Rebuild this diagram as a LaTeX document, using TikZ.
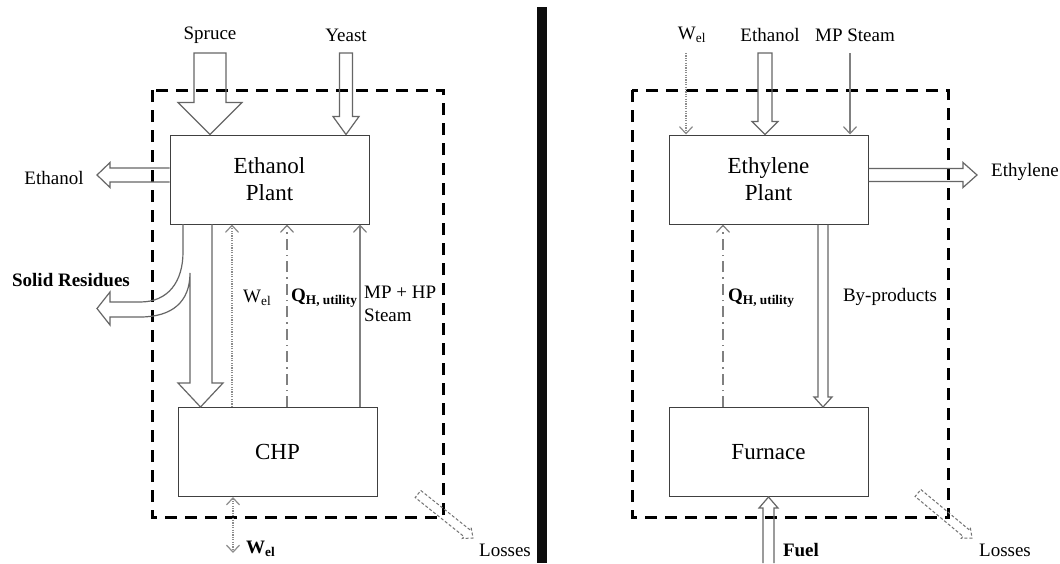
\documentclass[tikz,border=0pt]{standalone}
\usepackage{fontspec}
\setmainfont{Liberation Serif}
\usetikzlibrary{calc,arrows.meta}
\newcommand\hollowarrow[7]{%
  \coordinate (hc) at ($(#3)!#6!(#2)$);
  \draw[#1] ($(#2)!#4!90:(#3)$) -- ($(hc)!#4!90:(#3)$) -- ($(hc)!#5!90:(#3)$) -- (#3)
    -- ($(hc)!#5!-90:(#3)$) -- ($(hc)!#4!-90:(#3)$) -- ($(#2)!#4!-90:(#3)$) #7;
}
\tikzset{
  unit/.style={draw=black!75, line width=1pt, minimum width=199pt, minimum height=89pt, inner sep=0pt,
    font=\fontsize{23}{27}\selectfont, align=center},
  lbl/.style={font=\fontsize{19}{23}\selectfont, inner sep=0pt},
  blbl/.style={font=\fontsize{19}{23}\selectfont\bfseries, inner sep=0pt},
  boundary/.style={draw=black, line width=3pt, dash pattern=on 12pt off 8pt},
  hollow/.style={draw=black!60, line width=1.2pt, line join=miter},
  lossarrow/.style={draw=black!55, line width=1pt, dash pattern=on 3pt off 2pt},
  barb/.style={-{Straight Barb[length=7pt,width=13pt,line width=1.2pt]}},
  dbarb/.style={{Straight Barb[length=7pt,width=13pt,line width=1.2pt]}-{Straight Barb[length=7pt,width=13pt,line width=1.2pt]}},
  elflow/.style={draw=black!45, line width=1.5pt, dash pattern=on 1.2pt off 1.2pt},
  heatflow/.style={draw=black!50, line width=1.5pt, dash pattern=on 11pt off 5pt on 1.5pt off 5pt},
  steamflow/.style={draw=black!50, line width=1.5pt},
}
\begin{document}
\begin{tikzpicture}[x=1pt,y=-1pt]
\useasboundingbox (0,0) rectangle (1060,563);
\fill[white] (0,0) rectangle (1060,563);

% separator
\fill[black!95] (537,7) rectangle (547,563);

% ---------------- left panel ----------------
\draw[boundary] (152,90) rectangle (443,517);
\node[unit] (ep) at (269.5,179.5) {Ethanol\\Plant};
\node[unit] (chp) at (277.5,452) {CHP};

\node[lbl] (spruce) at (210,35) {Spruce};
\node[lbl] (yeast) at (346,35) {Yeast};
\node[lbl] (ethout) at (54,178) {Ethanol};
\node[blbl] (solid) at (71,280) {Solid Residues};
\node[lbl, anchor=west] (wel1) at (243,298) {W\textsubscript{el}};
\node[blbl, anchor=west] (q1) at (291,298) {Q\textsubscript{H, utility}};
\node[lbl, anchor=north west, align=left] (mphp) at (364,286) {MP + HP\\Steam};
\node[blbl, anchor=west] (wel2) at (246,549) {W\textsubscript{el}};
\node[lbl] (loss1) at (505,550) {Losses};

\coordinate (sprTop) at (210,53);
\coordinate (sprTip) at (ep.north -| sprTop);
\hollowarrow{hollow}{sprTop}{sprTip}{16pt}{32pt}{32pt}{--cycle}
\coordinate (yeaTop) at (346,53);
\coordinate (yeaTip) at (ep.north -| yeaTop);
\hollowarrow{hollow}{yeaTop}{yeaTip}{6.5pt}{13pt}{18pt}{--cycle}
\coordinate (ethTip) at (97,175);
\coordinate (ethSt) at (ep.west |- ethTip);
\hollowarrow{hollow}{ethSt}{ethTip}{7pt}{12.5pt}{13pt}{}

% main stream to CHP with solid residues branch
\draw[hollow] (212,224) -- (212,383) -- (223,383) -- (200.5,407) -- (178,383) -- (190,383) -- (190,273)
  .. controls (190,302) and (172,317) .. (140,317) -- (110,317) -- (110,325) -- (97,308.5) -- (110,292)
  -- (110,302) -- (140,302) .. controls (168,302) and (183,282) .. (183,252) -- (183,224);

\coordinate (xw1) at (232,0);
\coordinate (xq1) at (287,0);
\coordinate (xs1) at (360,0);
\draw[elflow, barb] (chp.north -| xw1) -- (ep.south -| xw1);
\draw[heatflow, barb] (chp.north -| xq1) -- (ep.south -| xq1);
\draw[steamflow, barb] (chp.north -| xs1) -- (ep.south -| xs1);
\coordinate (wbot) at (233,553);
\draw[elflow, dbarb] (chp.south -| wbot) -- (wbot);

\coordinate (l1a) at (418,494);
\coordinate (l1b) at (473,538);
\hollowarrow{lossarrow}{l1a}{l1b}{4.5pt}{7pt}{8pt}{--cycle}

% ---------------- right panel ----------------
\draw[boundary] (632,90) rectangle (948,517);
\node[unit] (yp) at (768.5,179.5) {Ethylene\\Plant};
\node[unit] (fur) at (768.5,452) {Furnace};

\node[lbl] (wel3) at (692,35) {W\textsubscript{el}};
\node[lbl] (ethin) at (770,35) {Ethanol};
\node[lbl] (mps) at (855,35) {MP Steam};
\node[lbl] (ethy) at (1025,172) {Ethylene};
\node[blbl, anchor=west] (q2) at (728,298) {Q\textsubscript{H, utility}};
\node[lbl] (byp) at (890,297) {By-products};
\node[blbl] (fuel) at (801,550) {Fuel};
\node[lbl] (loss2) at (1005,550) {Losses};

\coordinate (wtop) at (686,53);
\draw[elflow, barb] (wtop) -- (yp.north -| wtop);
\coordinate (etTop) at (765,53);
\coordinate (etTip) at (yp.north -| etTop);
\hollowarrow{hollow}{etTop}{etTip}{7pt}{13pt}{13pt}{--cycle}
\coordinate (mpTop) at (850,53);
\draw[steamflow, barb] (mpTop) -- (yp.north -| mpTop);

\coordinate (eyTip) at (977,175);
\coordinate (eySt) at (yp.east |- eyTip);
\hollowarrow{hollow}{eySt}{eyTip}{6.5pt}{12.5pt}{14pt}{}

\coordinate (xq2) at (723,0);
\draw[heatflow, barb] (fur.north -| xq2) -- (yp.south -| xq2);

\coordinate (xb) at (823,0);
\coordinate (bySt) at (yp.south -| xb);
\coordinate (byTip) at (fur.north -| xb);
\hollowarrow{hollow}{bySt}{byTip}{5pt}{9pt}{10pt}{}

\coordinate (fuSt) at (768.5,563);
\coordinate (fuTip) at (fur.south -| fuSt);
\hollowarrow{hollow}{fuSt}{fuTip}{5.5pt}{9.5pt}{11pt}{}

\coordinate (l2a) at (918,493);
\coordinate (l2b) at (972,538);
\hollowarrow{lossarrow}{l2a}{l2b}{4.5pt}{7pt}{8pt}{--cycle}
\end{tikzpicture}
\end{document}
